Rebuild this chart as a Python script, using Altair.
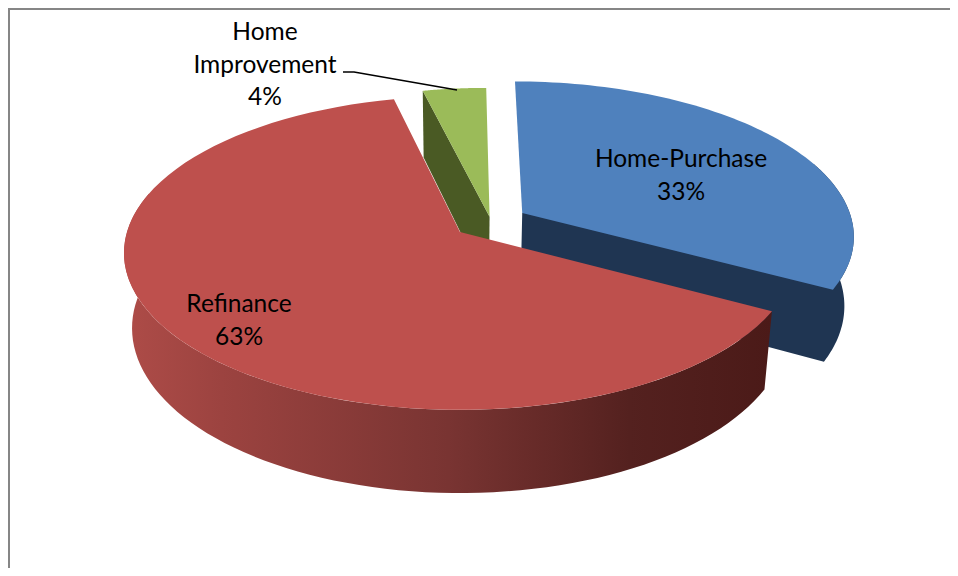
import math
import altair as alt
import pandas as pd

# Chart values: shares; labels as printed
categories = ["Home-Purchase", "Refinance", "Home Improvement"]
shares = [33.0, 63.4, 3.6]
label_lines = [["Home-Purchase", "33%"], ["Refinance", "63%"], ["Home", "Improvement", "4%"]]

# Projection of the tilted pie (style only)
CX, CY = 460, 232
A, B, K = 333, 154, 0.134
A2, B2 = 325, 162
offsets = [(0.19, 0.125), (0.0, 0.0), (0.09, 0.1)]
radii = [1.0, 1.0, 0.97]
depths = [69, 74, 74]
TOP = ["#4F81BD", "#BE504D", "#9BBB59"]
WALL = ["#1F3552", None, "#4A5A24"]
RED_WALL = alt.Gradient(
    gradient="linear", x1=0, x2=1, y1=0, y2=0,
    stops=[
        alt.GradientStop(offset=0, color="#AE4C48"),
        alt.GradientStop(offset=0.15, color="#9C4340"),
        alt.GradientStop(offset=0.5, color="#793432"),
        alt.GradientStop(offset=0.78, color="#54211F"),
        alt.GradientStop(offset=1, color="#4B1A18"),
    ],
)


def top(i, X, Z):
    s = 1 / (1 + K * Z)
    return CX + A * X * s, CY - B * Z * s


def bottom(i, X, Z):
    s = 1 / (1 + K * Z)
    return CX + A2 * X * s, CY + depths[i] - B2 * Z * s


def rim(i, a0, a1, fn, n=80):
    ox, oz = offsets[i]
    r = radii[i]
    pts = []
    for j in range(n + 1):
        t = math.radians(a0 + (a1 - a0) * j / n)
        pts.append(fn(i, ox + r * math.sin(t), oz + r * math.cos(t)))
    return pts


def apex(i, fn):
    return fn(i, *offsets[i])


def poly(pts):
    return pd.DataFrame({"x": [p[0] for p in pts], "y": [p[1] for p in pts], "i": range(len(pts))})


x_enc = alt.X("x:Q", scale=alt.Scale(domain=[8, 950]), axis=None)
y_enc = alt.Y("y:Q", scale=alt.Scale(domain=[568, 8]), axis=None)


def shape(pts, fill):
    return alt.Chart(poly(pts)).mark_line(
        interpolate="linear-closed", fill=fill, stroke="transparent", strokeWidth=0
    ).encode(x=x_enc, y=y_enc, order=alt.Order("i:Q"))


# Slice angle ranges, clockwise from the top of the pie
starts = [0]
for v in shares:
    starts.append(starts[-1] + v / sum(shares) * 360)
b0, b1 = starts[0], starts[1]
r0, r1 = starts[1], starts[2]
g0, g1 = starts[2], starts[3]

layers = []

# Green slice: cut face, then top
g_end_t = rim(2, g0, g0, top, 1)[0]
g_end_b = rim(2, g0, g0, bottom, 1)[0]
layers.append(shape([g_end_t, apex(2, top), apex(2, bottom), g_end_b], WALL[2]))
layers.append(shape([apex(2, top)] + rim(2, g0, g1, top), TOP[2]))

# Blue slice: cut face and outer wall as one shape, then top
layers.append(shape(
    [apex(0, top)] + rim(0, 70, b1, top) + rim(0, 70, b1, bottom) + [apex(0, bottom)],
    WALL[0],
))
layers.append(shape([apex(0, top)] + rim(0, b0, b1, top), TOP[0]))

# Red slice: outer wall, then top
layers.append(shape(rim(1, r0, 285, top) + rim(1, r0, 285, bottom)[::-1], RED_WALL))
layers.append(shape([apex(1, top)] + rim(1, r0, r1, top), TOP[1]))

# Frame
frame_left = pd.DataFrame({"x": [9, 9], "y": [8, 568], "i": [0, 1]})
frame_top = pd.DataFrame({"x": [8, 950], "y": [9, 9], "i": [0, 1]})
for fr in (frame_left, frame_top):
    layers.append(alt.Chart(fr).mark_line(color="#868686", strokeWidth=2).encode(x=x_enc, y=y_enc, order="i:Q"))

# Leader line
leader = pd.DataFrame({"x": [343, 354, 457], "y": [72, 72, 90], "i": [0, 1, 2]})
layers.append(alt.Chart(leader).mark_line(color="#000000", strokeWidth=1.6).encode(x=x_enc, y=y_enc, order="i:Q"))

# Labels
label_pos = [(681, 160), (239, 305), (265, 33)]
rows = []
for lines, (lx, ly) in zip(label_lines, label_pos):
    for n, t in enumerate(lines):
        rows.append({"x": lx, "y": ly + n * 32.7, "t": t})
layers.append(
    alt.Chart(pd.DataFrame(rows))
    .mark_text(font="Lato", fontSize=24.5, color="#000000", align="center", baseline="middle")
    .encode(x=x_enc, y=y_enc, text="t:N")
)

chart = (
    alt.layer(*layers)
    .properties(width=942, height=560, padding=0, autosize=alt.AutoSizeParams(type="none"))
    .configure_view(stroke=None)
)
chart.save("out.html", embed_options={"renderer": "svg", "actions": False})
